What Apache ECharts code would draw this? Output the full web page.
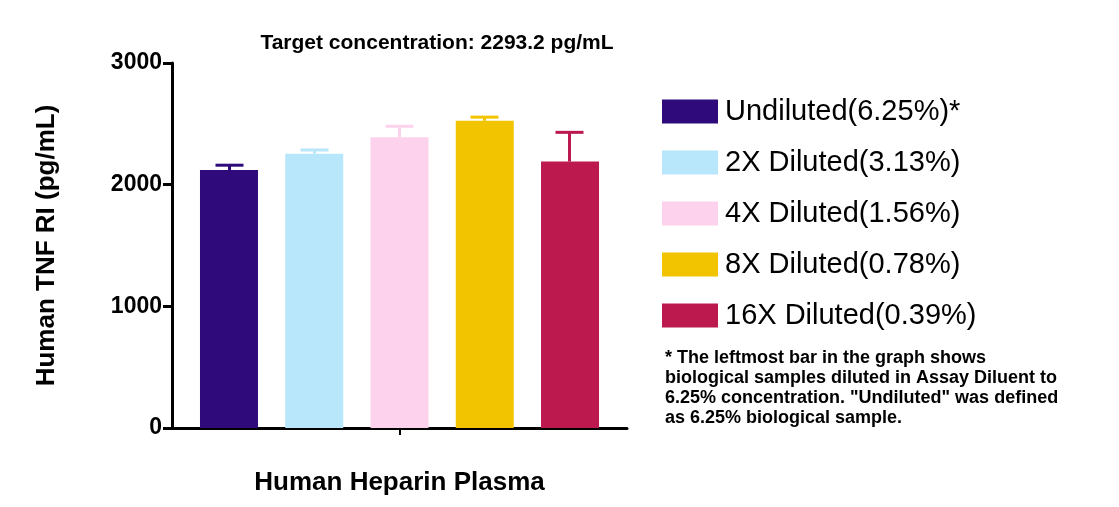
<!DOCTYPE html><html><head><meta charset="utf-8">
<script src="https://cdn.jsdelivr.net/npm/echarts@6/dist/echarts.min.js"></script>
<style>html,body{margin:0;padding:0;background:#fff}#c{width:1119px;height:507px}</style></head><body><div id="c"></div>
<script>
const categories=['Human Heparin Plasma'];
const seriesNames=['Undiluted(6.25%)*','2X Diluted(3.13%)','4X Diluted(1.56%)','8X Diluted(0.78%)','16X Diluted(0.39%)'];
const means=[2120,2255,2390,2525,2190];
const errors=[40,30,90,30,240];
const colors=['#2e0a7a','#b8e6fa','#fcd2ec','#f2c400','#bc1a4e'];
const yTicks=[0,1000,2000,3000];
const font='Arial, "Liberation Sans", sans-serif';
const chart=echarts.init(document.getElementById('c'));
const spacing=85;
const series=seriesNames.map((n,i)=>({name:n,type:'bar',data:[means[i]],barWidth:58,barGap:'47%',itemStyle:{color:colors[i]}}));
series.push({type:'custom',name:'err',renderItem:(params,api)=>{
  const children=[];
  means.forEach((m,i)=>{
    const off=(i-2)*spacing;
    const p0=api.coord([0,m]),p1=api.coord([0,m+errors[i]]);
    const x=p0[0]+off;
    children.push({type:'line',shape:{x1:x,y1:p0[1],x2:x,y2:p1[1]},style:{stroke:colors[i],lineWidth:3}});
    children.push({type:'line',shape:{x1:x-14,y1:p1[1],x2:x+14,y2:p1[1]},style:{stroke:colors[i],lineWidth:3}});
  });
  return {type:'group',children};
},data:[0],z:5});
chart.setOption({
  animation:false,
  title:{text:'Target concentration: 2293.2 pg/mL',left:432,top:28,textAlign:'center',textStyle:{fontFamily:font,fontSize:21,fontWeight:'bold',color:'#000'}},
  grid:{left:172,right:492,top:63,bottom:79},
  legend:{orient:'vertical',left:657,top:92,icon:'rect',itemWidth:56,itemHeight:24,itemGap:22,data:seriesNames,
    textStyle:{fontFamily:font,fontSize:29,color:'#000',padding:[0,0,0,2]}},
  xAxis:{type:'category',data:categories,name:'Human Heparin Plasma',nameLocation:'middle',nameGap:42,
    nameTextStyle:{fontFamily:font,fontSize:26,fontWeight:'bold',color:'#000'},
    axisLine:{lineStyle:{color:'#000',width:3}},axisTick:{show:true,alignWithLabel:true,length:7,lineStyle:{width:2,color:'#000'}},
    axisLabel:{show:true,formatter:()=>''}},
  yAxis:{type:'value',min:0,max:3000,interval:1000,name:'Human TNF RI (pg/mL)',nameLocation:'middle',nameGap:112,
    nameTextStyle:{fontFamily:font,fontSize:26,fontWeight:'bold',color:'#000'},
    axisLine:{show:true,lineStyle:{color:'#000',width:3}},axisTick:{show:true,length:9,lineStyle:{width:3}},
    axisLabel:{fontFamily:font,fontSize:23,fontWeight:'bold',color:'#000',margin:10,formatter:v=>String(v)},splitLine:{show:false}},
  graphic:[{type:'text',left:665,top:348,style:{text:'* The leftmost bar in the graph shows\nbiological samples diluted in Assay Diluent to\n6.25% concentration. "Undiluted" was defined\nas 6.25% biological sample.',font:'bold 18px '+font,fill:'#000',lineHeight:20}}],
  series
});
</script></body></html>
